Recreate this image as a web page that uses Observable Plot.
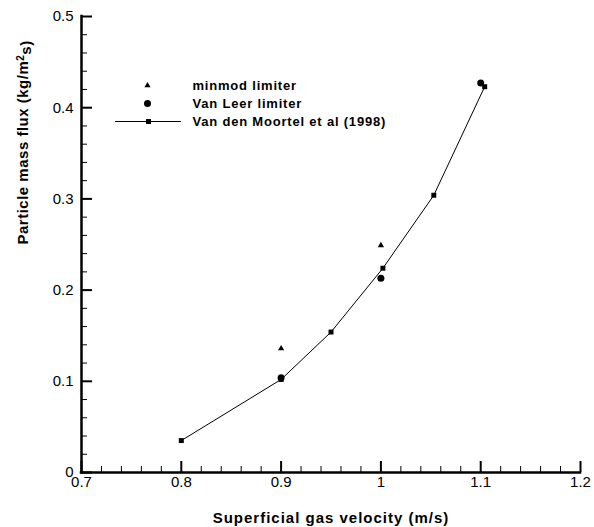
<!DOCTYPE html>
<html><head><meta charset="utf-8">
<script src="https://cdn.jsdelivr.net/npm/d3@7"></script>
<script src="https://cdn.jsdelivr.net/npm/@observablehq/plot@0.6"></script>
<style>body{margin:0;background:#fff}</style>
</head><body><div id="chart"></div><pre id="note" style="position:absolute;top:0;left:0;margin:0;width:1px;height:1px;font-size:1px;color:transparent"> </pre>
<script>
// Data
const moortelX = [0.8, 0.9, 0.95, 1.002, 1.053, 1.104];
const moortelY = [0.035, 0.102, 0.154, 0.224, 0.304, 0.423];
const vanLeerX = [0.9, 1.0, 1.1];
const vanLeerY = [0.104, 0.213, 0.427];
const minmodX = [0.9, 1.0];
const minmodY = [0.136, 0.249];

const xTicks = [0.7, 0.8, 0.9, 1, 1.1, 1.2];
const xTickLabels = ["0.7", "0.8", "0.9", "1", "1.1", "1.2"];
const yTicks = [0, 0.1, 0.2, 0.3, 0.4, 0.5];
const yTickLabels = ["0", "0.1", "0.2", "0.3", "0.4", "0.5"];
const legendLabels = ["minmod limiter", "Van Leer limiter", "Van den Moortel et al (1998)"];
const xLabel = "Superficial gas velocity (m/s)";
const yLabel = "Particle mass flux (kg/m²s)";

const moortel = moortelX.map((x, i) => ({x, y: moortelY[i]}));
const vanLeer = vanLeerX.map((x, i) => ({x, y: vanLeerY[i]}));
const minmod = minmodX.map((x, i) => ({x, y: minmodY[i]}));

const near = (a, b) => Math.abs(a - b) < 1e-9;
const xMinor = d3.range(35, 61).map(k => k / 50).filter(v => !xTicks.some(t => near(t, v)));
const yMinor = d3.range(0, 26).map(k => k / 50).filter(v => !yTicks.some(t => near(t, v)));

const lineShape = {draw(ctx, l) { ctx.moveTo(0, 0); ctx.lineTo(0, -l); }};

const chart = Plot.plot({
  width: 594,
  height: 527,
  marginLeft: 81,
  marginRight: 14,
  marginTop: 16,
  marginBottom: 55,
  style: {fontFamily: "'Liberation Sans', Arial, sans-serif", fontSize: "15px", background: "#fff", color: "#000"},
  x: {domain: [0.7, 1.2], label: null},
  y: {domain: [0, 0.5], label: null},
  marks: [
    // minor inward ticks
    Plot.axisX({ticks: xMinor, tickSize: -6, tickFormat: () => "", strokeWidth: 1}),
    Plot.axisY({ticks: yMinor, tickSize: -6, tickFormat: () => "", strokeWidth: 1}),
    // major inward ticks with labels
    Plot.axisX({ticks: xTicks, tickSize: -11, tickPadding: 15, strokeWidth: 2, fontSize: 15,
      tickFormat: d => xTickLabels[xTicks.findIndex(t => near(t, d))]}),
    Plot.axisY({ticks: yTicks, tickSize: -11, tickPadding: 19, strokeWidth: 2, fontSize: 15,
      tickFormat: d => yTickLabels[yTicks.findIndex(t => near(t, d))]}),
    // axis lines
    Plot.ruleX([0.7], {stroke: "#000", strokeWidth: 2.5, strokeLinecap: "square"}),
    Plot.ruleY([0], {stroke: "#000", strokeWidth: 2.5, strokeLinecap: "square"}),
    // data
    Plot.line(moortel, {x: "x", y: "y", stroke: "#000", strokeWidth: 1}),
    Plot.dot(moortel, {x: "x", y: "y", symbol: "square", r: 2.8, fill: "#000"}),
    Plot.dot(vanLeer, {x: "x", y: "y", symbol: "circle", r: 3.5, fill: "#000"}),
    Plot.dot(minmod, {x: "x", y: "y", symbol: "triangle", r: 2.3, fill: "#000"}),
    // axis titles
    Plot.text([xLabel], {text: d => d, frameAnchor: "bottom", dy: 46, lineAnchor: "middle", fontWeight: "bold", fontSize: 15, fill: "#000", className: "xlab"}),
    Plot.text([yLabel], {text: d => d, frameAnchor: "left", dx: -58, rotate: -90, lineAnchor: "middle", fontWeight: "bold", fontSize: 15, fill: "#000", className: "ylab"}),
    // legend
    Plot.dot([legendLabels[0]], {frameAnchor: "top-left", dx: 66, dy: 69, symbol: "triangle", r: 2.3, fill: "#000"}),
    Plot.dot([legendLabels[1]], {frameAnchor: "top-left", dx: 66, dy: 87, symbol: "circle", r: 3.5, fill: "#000"}),
    Plot.vector([legendLabels[2]], {frameAnchor: "top-left", dx: 34, dy: 105, length: 65, rotate: 90, anchor: "start", shape: lineShape, stroke: "#000", strokeWidth: 1}),
    Plot.dot([legendLabels[2]], {frameAnchor: "top-left", dx: 67, dy: 105, symbol: "square", r: 2.8, fill: "#000"}),
    Plot.text([legendLabels[0]], {text: d => d, frameAnchor: "top-left", dx: 111, dy: 69, lineAnchor: "middle", textAnchor: "start", fontWeight: "bold", fontSize: 13, fill: "#000", className: "leg"}),
    Plot.text([legendLabels[1]], {text: d => d, frameAnchor: "top-left", dx: 111, dy: 87, lineAnchor: "middle", textAnchor: "start", fontWeight: "bold", fontSize: 13, fill: "#000", className: "leg"}),
    Plot.text([legendLabels[2]], {text: d => d, frameAnchor: "top-left", dx: 111, dy: 105, lineAnchor: "middle", textAnchor: "start", fontWeight: "bold", fontSize: 13, fill: "#000", className: "leg"})
  ]
});
document.getElementById("chart").append(chart);

// letter spacing and superscript
chart.querySelectorAll(".xlab text").forEach(t => t.style.letterSpacing = "1px");
chart.querySelectorAll(".leg text").forEach(t => t.style.letterSpacing = "0.8px");
chart.querySelectorAll(".ylab text").forEach(t => {
  const s = t.textContent;
  const k = s.indexOf("²");
  if (k < 0) return;
  t.style.letterSpacing = "0.5px";
  t.textContent = "";
  const ns = "http://www.w3.org/2000/svg";
  const a = document.createElementNS(ns, "tspan"); a.textContent = s.slice(0, k);
  const b = document.createElementNS(ns, "tspan"); b.textContent = "2"; b.setAttribute("dy", "-0.45em"); b.setAttribute("font-size", "10");
  const c = document.createElementNS(ns, "tspan"); c.textContent = s.slice(k + 1); c.setAttribute("dy", "0.45em");
  t.append(a, b, c);
});
</script>
</body></html>
